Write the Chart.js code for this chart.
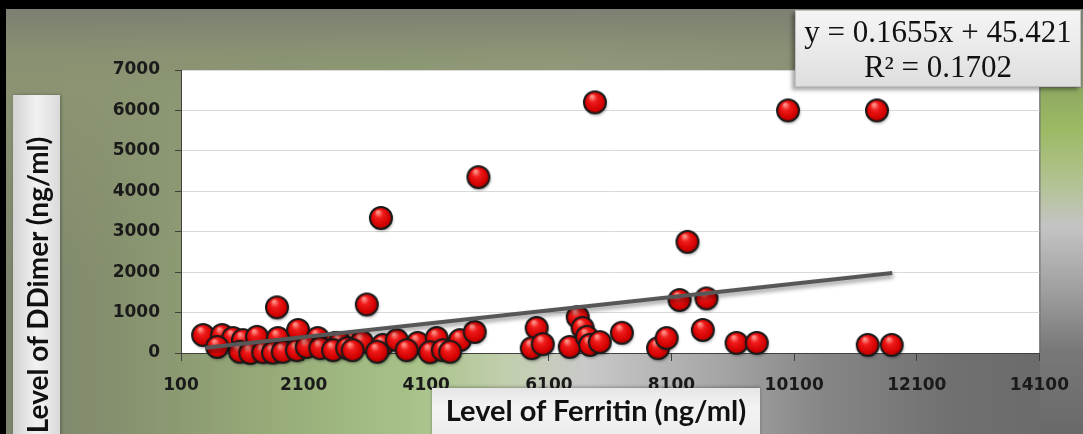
<!DOCTYPE html>
<html>
<head>
<meta charset="utf-8">
<script src="https://cdn.jsdelivr.net/npm/chart.js@4.4.1/dist/chart.umd.min.js"></script>
<style>
  html, body { margin: 0; padding: 0; }
  body { width: 1083px; height: 434px; overflow: hidden; }
  #wrap {
    position: relative; width: 1083px; height: 434px; overflow: hidden;
    background:
      linear-gradient(to bottom, rgba(122,124,114,1) 0%, rgba(136,145,114,0.95) 12%, rgba(140,150,115,0.85) 20%, rgba(140,150,115,0) 65%),
      linear-gradient(to right, #7c836c 0%, #87926f 12%, #98ad7a 26%, #a7c288 38%, #c2cfae 47%, #c9c9c9 54%, #adadad 64%, #868686 76%, #707070 88%, #696969 100%);
  }
  #rightstrip {
    position: absolute; left: 1040px; top: 88px; width: 43px; height: 346px;
    background: linear-gradient(to bottom, #8ea860 0%, #9cba64 12%, #b3c394 28%, #c4c4c4 40%, #a0a0a0 58%, #787878 76%, #696969 100%);
  }
  #topband { position: absolute; left: 0; top: 0; width: 1083px; height: 9px; background: #000; }
  #leftband { position: absolute; left: 0; top: 0; width: 6px; height: 434px; background: #000; }
  canvas { position: absolute; left: 0; top: 0; }
  .box { position: absolute; z-index: 2; color: #111; }
  #ytitle {
    left: 13px; top: 95px; width: 47px; height: 345px;
    background: linear-gradient(to right, #d2d2d2, #f2f2f2 50%, #dadada);
    box-shadow: 1px 0 3px rgba(0,0,0,0.3);
  }
  #ytitle span {
    position: absolute; left: 24px; top: 190px; white-space: nowrap;
    transform: translate(-50%, -50%) rotate(-90deg);
    font: bold 28px Lato, sans-serif;
  }
  #xtitle {
    left: 432px; top: 388px; width: 328px; height: 50px;
    background: linear-gradient(to bottom, #e6e6e6, #f3f3f3 40%, #ececec);
    box-shadow: 0 -1px 3px rgba(0,0,0,0.3);
    text-align: center; font: bold 29px Lato, sans-serif; line-height: 44px;
  }
  #eq {
    left: 795px; top: 10px; width: 286px; height: 77px;
    background: linear-gradient(to bottom, #f5f5f5, #dedede);
    border: 1px solid #c0c0c0;
    box-shadow: -3px 3px 4px rgba(0,0,0,0.35);
    text-align: center; font: 31px "Liberation Serif", serif; line-height: 35px;
    padding-top: 3px; box-sizing: border-box;
  }
</style>
</head>
<body>
<div id="wrap">
  <div id="rightstrip"></div>
  <canvas id="chart" width="1083" height="434"></canvas>
  <div id="topband"></div>
  <div id="leftband"></div>
  <div class="box" id="ytitle"><span>Level of DDimer (ng/ml)</span></div>
  <div class="box" id="xtitle">Level of Ferritin (ng/ml)</div>
  <div class="box" id="eq">y = 0.1655x + 45.421<br>R² = 0.1702</div>
</div>
<script>
const xTicks = [100, 2100, 4100, 6100, 8100, 10100, 12100, 14100]
const yTicks = [0, 1000, 2000, 3000, 4000, 5000, 6000, 7000]

// ferritin (x) and d-dimer (y)
const ferritin = [
  6850, 10000, 11450, 4950, 3360, 8360,
  1665, 3130, 8230, 8670,
  460, 770, 950, 1110, 1340, 1680, 2010, 2330, 2610, 2900, 2690, 3050, 3390, 3620, 3960, 4270, 4650, 4890,
  690, 1060, 1230, 1440, 1600, 1760, 1990, 2150, 2370, 2580, 2810, 2900, 3300, 3780, 4160, 4370, 4490,
  5900, 5820, 6000, 6440, 6570, 6650, 6720, 6770, 6930, 7290, 7880, 8020, 8610, 9160, 9490, 11300, 11690
]
const ddimer = [
  6200, 6000, 6000, 4350, 3340, 2750,
  1130, 1200, 1310, 1350,
  445, 445, 370, 320, 400, 370, 570, 370, 250, 270, 250, 270, 200, 320, 250, 370, 320, 520,
  150, 30, 0, 20, 10, 30, 70, 150, 120, 70, 120, 70, 30, 70, 20, 70, 30,
  620, 120, 220, 150, 890, 620, 400, 200, 270, 500, 120, 370, 570, 250, 250, 200, 200
]

// trend line ends as drawn
const trendX = [500, 11700]
const trendY = [130, 1980]

const makeMarker = ()=>{
  const c = document.createElement('canvas')
  c.width = 32
  c.height = 32
  const g = c.getContext('2d')
  g.shadowColor = 'rgba(0,0,0,0.35)'
  g.shadowBlur = 3
  g.shadowOffsetX = 1
  g.shadowOffsetY = 2
  const grad = g.createRadialGradient(13, 10, 1, 16, 16, 12)
  grad.addColorStop(0, '#ff8f85')
  grad.addColorStop(0.3, '#f01c1c')
  grad.addColorStop(0.75, '#d20000')
  grad.addColorStop(1, '#960000')
  g.beginPath()
  g.arc(16, 16, 11, 0, Math.PI * 2)
  g.fillStyle = grad
  g.fill()
  g.shadowColor = 'transparent'
  g.lineWidth = 2
  g.strokeStyle = '#1a1a1a'
  g.stroke()
  return c
}

const plotBack = {
  id: 'plotBack',
  beforeDraw(chart) {
    const { ctx, chartArea: a } = chart
    ctx.save()
    ctx.fillStyle = '#ffffff'
    ctx.fillRect(a.left, a.top, a.right - a.left, a.bottom - a.top)
    ctx.strokeStyle = '#6a6a6a'
    ctx.lineWidth = 1
    ctx.beginPath()
    ctx.moveTo(a.right + 0.5, a.top)
    ctx.lineTo(a.right + 0.5, a.bottom)
    ctx.stroke()
    ctx.restore()
  },
  beforeDatasetDraw(chart, args) {
    if (args.index !== 1) return
    const ctx = chart.ctx
    ctx.save()
    ctx.shadowColor = 'rgba(0,0,0,0.4)'
    ctx.shadowBlur = 4
    ctx.shadowOffsetX = 1
    ctx.shadowOffsetY = 3
  },
  afterDatasetDraw(chart, args) {
    if (args.index !== 1) return
    chart.ctx.restore()
  }
}

const tickFont = { family: 'DejaVu Sans', weight: 'bold', size: 17 }

const config = {
  type: 'scatter',
  data: {
    datasets: [
      {
        label: 'DDimer',
        data: ferritin.map((v, i)=>({ x: v, y: ddimer[i] })),
        pointStyle: makeMarker(),
        pointRadius: 12,
        clip: false,
        order: 1
      },
      {
        type: 'line',
        label: 'Trend',
        data: trendX.map((v, i)=>({ x: v, y: trendY[i] })),
        borderColor: '#575757',
        borderWidth: 4,
        pointRadius: 0,
        fill: false,
        order: 0
      }
    ]
  },
  options: {
    responsive: false,
    animation: false,
    events: [],
    layout: { padding: { top: 70, right: 43, left: 0, bottom: 0 } },
    plugins: { legend: { display: false }, tooltip: { enabled: false } },
    scales: {
      x: {
        type: 'linear',
        min: 100,
        max: 14100,
        afterBuildTicks: s => { s.ticks = xTicks.map(v=>({ value: v })) },
        afterFit: s => { s.height = 81 },
        grid: { drawOnChartArea: false, drawTicks: true, tickLength: 8, tickColor: '#404040' },
        border: { color: '#404040', width: 1 },
        ticks: { font: tickFont, color: '#1a1a1a', padding: 14, maxRotation: 0, autoSkip: false, callback: v => String(v) }
      },
      y: {
        min: 0,
        max: 7000,
        afterBuildTicks: s => { s.ticks = yTicks.map(v=>({ value: v })) },
        afterFit: s => { s.width = 181 },
        grid: { color: '#d9d9d9', tickColor: '#404040', tickLength: 6 },
        border: { color: '#404040', width: 1 },
        ticks: { font: tickFont, color: '#1a1a1a', padding: 15, callback: v => String(v) }
      }
    }
  },
  plugins: [plotBack]
}

const myChart = new Chart(document.getElementById('chart'), config)
</script>
</body>
</html>
